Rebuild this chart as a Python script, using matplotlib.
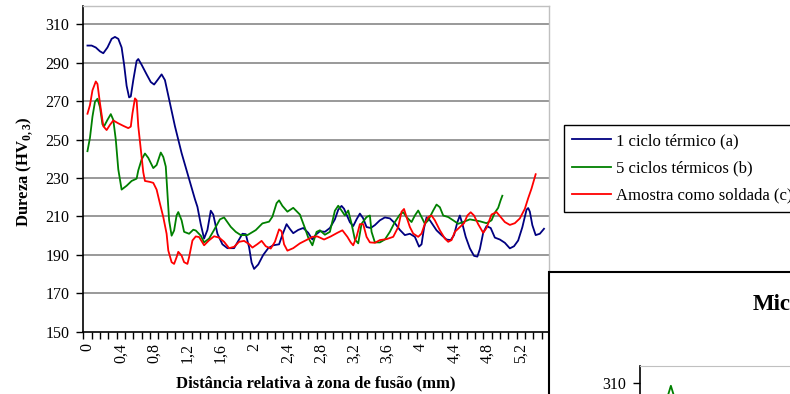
import numpy as np
import matplotlib
matplotlib.use("Agg")
import matplotlib.pyplot as plt
from matplotlib.patches import Rectangle

plt.rcParams['font.family'] = 'Liberation Serif'
plt.rcParams['mathtext.fontset'] = 'custom'
plt.rcParams['mathtext.rm'] = 'Liberation Serif'
plt.rcParams['mathtext.bf'] = 'Liberation Serif:bold'

# ---------------------------------------------------------------------------
# Data (distance in mm, hardness in HV0,3)
# ---------------------------------------------------------------------------
x_1ciclo = [0.00, 0.05, 0.10, 0.15, 0.19, 0.24, 0.29, 0.33, 0.37, 0.41, 0.44, 0.47, 0.50, 0.52,
            0.55, 0.59, 0.61, 0.65, 0.71, 0.76, 0.80, 0.84, 0.89, 0.93, 0.97, 1.01, 1.05, 1.09,
            1.13, 1.19, 1.25, 1.29, 1.32, 1.36, 1.40, 1.44, 1.48, 1.51, 1.56, 1.62, 1.68, 1.76,
            1.80, 1.86, 1.90, 1.94, 1.97, 2.00, 2.05, 2.11, 2.17, 2.23, 2.30, 2.34, 2.39, 2.43,
            2.47, 2.53, 2.59, 2.65, 2.70, 2.74, 2.79, 2.85, 2.91, 2.97, 3.01, 3.05, 3.08, 3.11,
            3.15, 3.19, 3.23, 3.27, 3.31, 3.35, 3.40, 3.45, 3.51, 3.57, 3.63, 3.69, 3.75, 3.81,
            3.87, 3.93, 3.98, 4.01, 4.04, 4.07, 4.11, 4.15, 4.19, 4.25, 4.31, 4.36, 4.40, 4.44,
            4.47, 4.50, 4.54, 4.59, 4.64, 4.68, 4.71, 4.75, 4.79, 4.84, 4.89, 4.95, 5.01, 5.07,
            5.12, 5.17, 5.22, 5.27, 5.29, 5.31, 5.34, 5.38, 5.43, 5.48]
hv_1ciclo = [299, 299, 298, 296, 295, 298, 302.5, 303.5, 302.5, 298, 289, 278, 272, 272.5,
             281, 291, 292, 289, 284, 280, 278.7, 281, 284, 281, 273, 265, 257, 250,
             243, 234, 225, 219, 215, 206, 198.5, 203, 213, 211, 201, 195.5, 193.5, 193.5,
             196.5, 201, 200.8, 194, 186, 182.7, 185, 190, 193.5, 195, 195.5, 200.5, 206, 203.5,
             201.3, 203, 204, 201.5, 198, 200.5, 202.3, 202, 204, 208.5, 213.5, 215.5, 214, 211,
             207, 205, 208.5, 211.5, 209, 204.5, 204, 205.5, 208, 209.5, 209, 206.5, 203, 200.3,
             201, 199.4, 194.3, 195.5, 204, 209.5, 208, 205.4, 202.8, 200.3, 198, 197.7, 200.3, 207,
             210.5, 206.2, 199.4, 193.4, 189.5, 189.1, 193, 201.5, 205, 204, 199, 198, 196.3, 193.4,
             194.5, 197.5, 204.4, 213.5, 214.4, 212.5, 205.5, 200.3, 201, 203.6]

x_5ciclos = [0.00, 0.03, 0.06, 0.09, 0.12, 0.15, 0.18, 0.20, 0.24, 0.28, 0.31, 0.34, 0.37, 0.41,
             0.47, 0.53, 0.59, 0.61, 0.65, 0.69, 0.73, 0.79, 0.83, 0.88, 0.91, 0.94, 0.96, 0.98,
             1.01, 1.04, 1.07, 1.09, 1.13, 1.16, 1.22, 1.27, 1.30, 1.36, 1.40, 1.46, 1.52, 1.59,
             1.64, 1.72, 1.78, 1.84, 1.92, 2.02, 2.10, 2.18, 2.22, 2.27, 2.30, 2.34, 2.40, 2.47,
             2.55, 2.61, 2.65, 2.70, 2.75, 2.79, 2.85, 2.91, 2.97, 3.01, 3.05, 3.09, 3.13, 3.17,
             3.21, 3.25, 3.29, 3.35, 3.39, 3.41, 3.45, 3.51, 3.57, 3.63, 3.69, 3.75, 3.79, 3.83,
             3.89, 3.93, 3.97, 4.01, 4.05, 4.09, 4.15, 4.19, 4.23, 4.27, 4.33, 4.39, 4.45, 4.51,
             4.59, 4.65, 4.71, 4.79, 4.85, 4.89, 4.93, 4.96, 4.98]
hv_5ciclos = [244, 251, 262, 269.7, 271.3, 267, 258, 257, 260.3, 263.3, 260.3, 250, 234.5, 224,
              226, 228.5, 229.7, 234, 239.7, 242.8, 240.5, 235.2, 236.8, 243.3, 241, 236, 222, 208,
              200, 202.7, 210.6, 212.3, 208, 202, 201, 203.1, 202.7, 200, 196.5, 198.5, 203, 208.5,
              209.5, 204.6, 202, 200.3, 200.3, 202.9, 206.4, 207.3, 209.9, 216.9, 218.4, 215.5, 212.5, 214.5,
              211, 204, 199, 195, 202, 202.8, 200.5, 202, 213, 215.6, 213.1, 210.5, 213.1, 206.2,
              198, 196, 206.2, 209.7, 210.5, 202, 196.5, 196.5, 198, 202, 207.1, 211, 212.2, 209.7,
              207.1, 210.5, 213.1, 209.7, 206.2, 208, 213.1, 216.2, 214.8, 210.5, 209.7, 208, 206.2, 207.1,
              208.5, 208, 207.5, 206.5, 208, 212, 214.5, 218.5, 220.8]

x_soldada = [0.00, 0.03, 0.06, 0.10, 0.12, 0.15, 0.19, 0.23, 0.27, 0.31, 0.37, 0.43, 0.49, 0.52,
             0.54, 0.57, 0.59, 0.61, 0.64, 0.67, 0.69, 0.75, 0.79, 0.83, 0.87, 0.91, 0.95, 0.97,
             1.01, 1.04, 1.07, 1.09, 1.13, 1.16, 1.20, 1.22, 1.26, 1.30, 1.34, 1.40, 1.46, 1.52,
             1.58, 1.64, 1.70, 1.76, 1.82, 1.88, 1.94, 1.98, 2.04, 2.09, 2.14, 2.20, 2.25, 2.30,
             2.33, 2.36, 2.40, 2.47, 2.55, 2.64, 2.70, 2.76, 2.84, 2.92, 3.00, 3.06, 3.12, 3.16,
             3.19, 3.23, 3.27, 3.31, 3.35, 3.39, 3.45, 3.51, 3.59, 3.67, 3.73, 3.77, 3.80, 3.83,
             3.87, 3.91, 3.97, 4.01, 4.05, 4.09, 4.13, 4.17, 4.23, 4.29, 4.33, 4.37, 4.41, 4.47,
             4.52, 4.56, 4.60, 4.64, 4.69, 4.75, 4.79, 4.85, 4.91, 4.96, 5.01, 5.07, 5.13, 5.19,
             5.25, 5.29, 5.33, 5.36, 5.38]
hv_soldada = [263.5, 268, 275.7, 280.3, 279, 269, 257, 255, 257.7, 260, 258.5, 257.2, 256, 256.8,
              263.7, 271.5, 270.5, 257, 245, 233, 228.5, 228, 227.5, 224, 216.7, 209.7, 201, 192.3,
              186.2, 185.3, 188.8, 191.6, 189.6, 186.2, 185.3, 188.8, 197.5, 199.6, 199.3, 195, 197.6, 199.7,
              199, 196.8, 193.5, 194.2, 196.8, 197.3, 195.6, 193.8, 195.6, 197.3, 194.5, 193.3, 196.8, 203.3,
              202.3, 195.5, 192.2, 193.5, 196, 198, 199.4, 199.6, 198, 199.6, 201.5, 202.8, 199.4, 196.5,
              195, 199.4, 206, 206, 199.4, 196.5, 196.3, 197.7, 198.2, 199.4, 204.5, 212.5, 213.9, 209.7,
              204.5, 201.1, 199.4, 201.1, 206.2, 209.7, 210.5, 208, 202.8, 198.5, 196.8, 197.7, 202, 204.5,
              206.5, 210.5, 212.2, 210.5, 206, 201.5, 204, 211, 212.3, 209.7, 207.1, 205.6, 206.5, 209,
              214, 219.5, 224.5, 229, 232]

labels = ["1 ciclo térmico (a)", "5 ciclos térmicos (b)", "Amostra como soldada (c)"]
colors = ["#000080", "#008000", "#ff0000"]

y_ticks = [150, 170, 190, 210, 230, 250, 270, 290, 310]
x_major = [0, 0.4, 0.8, 1.2, 1.6, 2.0, 2.4, 2.8, 3.2, 3.6, 4.0, 4.4, 4.8, 5.2]
x_major_labels = ["0", "0,4", "0,8", "1,2", "1,6", "2", "2,4", "2,8", "3,2", "3,6", "4", "4,4", "4,8", "5,2"]

# piece of the second (cropped) chart
x_second = [0.27, 0.33, 0.39]
hv_second = [300, 308.6, 300]

W, H = 790, 394
fig = plt.figure(figsize=(W / 100, H / 100), dpi=100)

########################################################################################################################
# Main chart
########################################################################################################################
ax = fig.add_axes([83.3 / W, 1 - 331.7 / H, (549 - 83.3) / W, (331.7 - 6) / H])

for xs, ys, lab, col in zip([x_1ciclo, x_5ciclos, x_soldada], [hv_1ciclo, hv_5ciclos, hv_soldada], labels, colors):
    ax.plot(xs, ys, color=col, lw=1.3, label=lab, zorder=3)

ax.set_xlim(-0.045, 5.54)
ax.set_ylim(150, 319.6)
ax.set_yticks(y_ticks)
for yv in y_ticks[1:]:
    ax.axhline(yv, color="#888888", lw=1.2, zorder=1)

ax.set_xticks(x_major)
ax.set_xticklabels(x_major_labels, rotation=90, fontsize=11.5)
ax.set_xticks(np.arange(-0.05, 5.55, 0.1), minor=True)
ax.tick_params(axis="x", which="major", length=0, pad=8)
ax.tick_params(axis="x", which="minor", length=5, width=1, color="black", direction="out")
ax.tick_params(axis="y", length=5, width=1, direction="out", labelsize=11.5, pad=5)

for s in ["top", "right"]:
    ax.spines[s].set_color("#c0c0c0")
    ax.spines[s].set_linewidth(1)
for s in ["left", "bottom"]:
    ax.spines[s].set_color("black")
    ax.spines[s].set_linewidth(1.2)

fig.text(25 / W, 1 - 172 / H, r"Dureza (HV$_{\mathbf{0,3}}$)", rotation=90, ha="center", va="center",
         fontsize=12, fontweight="bold")
fig.text(316 / W, 1 - 383 / H, "Distância relativa à zona de fusão (mm)", ha="center", va="center",
         fontsize=12, fontweight="bold")

leg = ax.legend(loc="upper left", bbox_to_anchor=(564 / W, 1 - 125 / H), bbox_transform=fig.transFigure,
                fontsize=12, frameon=True, fancybox=False, edgecolor="black", framealpha=1,
                handlelength=2.35, handletextpad=0.3, borderpad=0.48, labelspacing=0.68, borderaxespad=0)
leg.get_frame().set_linewidth(1.0)

########################################################################################################################
# Second chart, only its corner is visible
########################################################################################################################
fig.add_artist(Rectangle((549 / W, -0.05), 0.5, (394 - 272) / H + 0.05, transform=fig.transFigure,
                         facecolor="white", edgecolor="black", lw=1.5, zorder=5))
fig.text(753 / W, 1 - 305 / H, "Mic", ha="left", va="center", fontsize=16.5, fontweight="bold",
         zorder=6)

ax2 = fig.add_axes([640 / W, -0.1, 0.3, 1 - 366 / H + 0.1], zorder=6)
ax2.plot(x_second, hv_second, color="#008000", lw=1.3)
ax2.set_xlim(-0.04, 2.8)
ax2.set_ylim(318.9 - 67.4 / 1.92, 318.9)
ax2.set_yticks([310])
ax2.set_xticks([])
ax2.tick_params(axis="y", length=5, width=1, labelsize=11.5, pad=5)
ax2.spines["top"].set_color("#c0c0c0")
ax2.spines["right"].set_visible(False)
ax2.spines["bottom"].set_visible(False)
ax2.spines["left"].set_linewidth(1.2)

fig.savefig("out.png", dpi=100)
